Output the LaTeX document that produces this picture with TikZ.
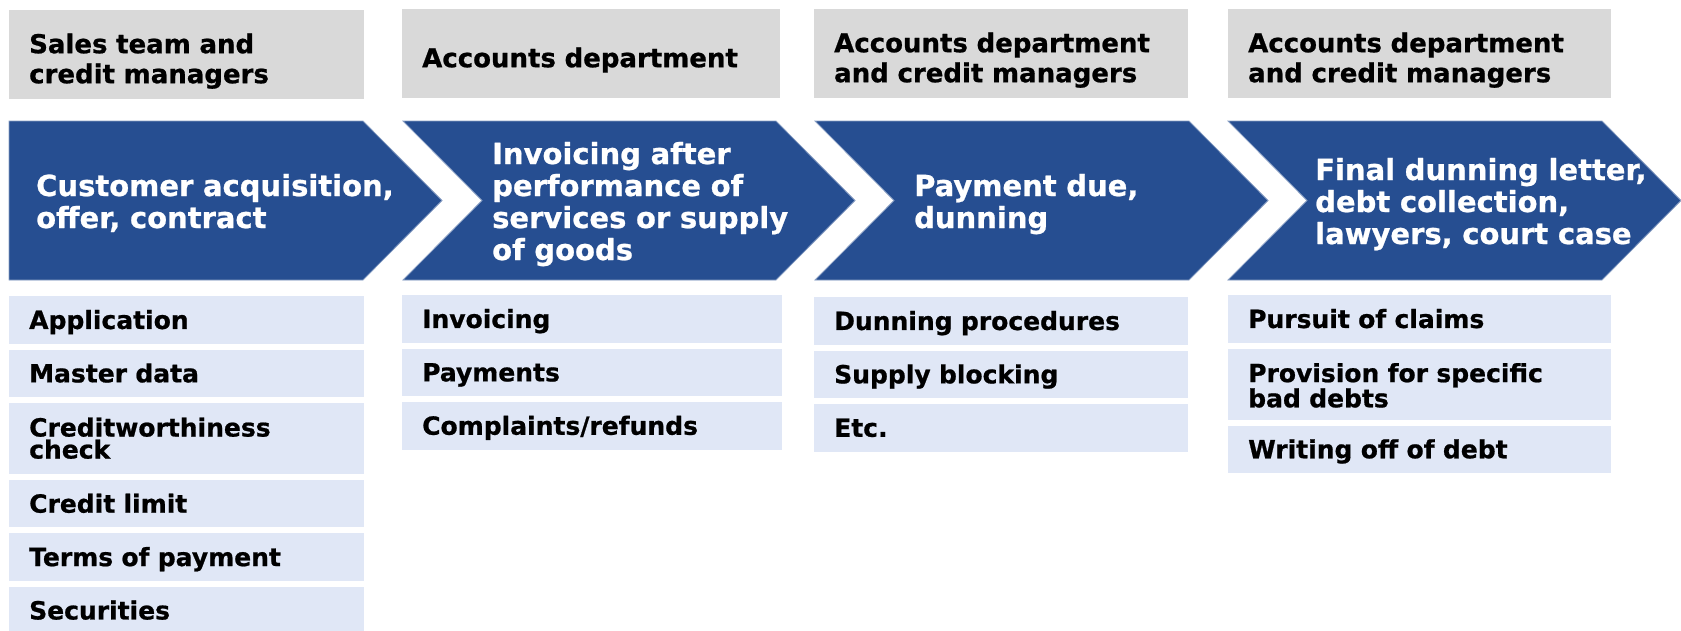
\documentclass[tikz,border=0pt]{standalone}
\usepackage{fontspec}
\setmainfont{DejaVu Sans}[BoldFeatures={FakeBold=0.8}]
\usepackage{xcolor}
\usepackage{tikz}
\usetikzlibrary{positioning}
\definecolor{chevblue}{RGB}{38,78,145}
\definecolor{hdrgray}{RGB}{217,217,217}
\definecolor{itemblue}{RGB}{224,231,246}
\tikzstyle{hdr} = [fill=hdrgray,anchor=north west,inner xsep=20pt,inner ysep=0pt,align=left,minimum height=89pt,text height=27pt,text depth=0pt,font=\fontsize{26}{30}\selectfont\bfseries]
\tikzstyle{item} = [fill=itemblue,inner xsep=20pt,inner ysep=0pt,align=left,minimum height=47.5pt,text height=18pt,text depth=0pt,font=\fontsize{25}{22}\selectfont\bfseries]
\tikzstyle{chev} = [fill=chevblue,draw=chevblue!55!white,line width=0.8pt]
\tikzstyle{chevtext} = [anchor=west,align=left,text=white,inner sep=0pt,text width=360pt,text height=23pt,font=\fontsize{29}{32}\selectfont\bfseries]

\begin{document}
\begin{tikzpicture}[x=1pt,y=-1pt]
	\useasboundingbox (0,0) rectangle (1681,630);
	
	% Headers:
	% Grey boxes naming who is in charge of each step
	\node[hdr,text width=315pt,text depth=30pt] (h1) at (9,10) {Sales team and\\credit managers};
	\node[hdr,text width=338pt] (h2) at (402,9) {Accounts department};
	\node[hdr,text width=334pt,text depth=30pt] (h3) at (814,9) {Accounts department\\and credit managers};
	\node[hdr,text width=343pt,text depth=30pt] (h4) at (1228,9) {Accounts department\\and credit managers};
	
	% Chevrons:
	% The first one has a flat left side, the others get a notch
	\draw[chev] (9,121) -- (363,121) -- (442,200.5) -- (363,280) -- (9,280) -- cycle;
	\foreach \l/\r in {403/776,815/1189,1228/1602}
	{
		\draw[chev] (\l,121) -- (\r,121) -- (\r+79,200.5) -- (\r,280) -- (\l,280) -- (\l+79,200.5) -- cycle;
	}
	
	\node[chevtext,text depth=32pt] (s1) at (36,200.5) {Customer acquisition,\\offer, contract};
	\node[chevtext,text depth=96pt] (s2) at (492,200.5) {Invoicing after\\performance of\\services or supply\\of goods};
	\node[chevtext,text depth=32pt] (s3) at (914,200.5) {Payment due,\\dunning};
	\node[chevtext,text depth=64pt] (s4) at (1315,200.5) {Final dunning letter,\\debt collection,\\lawyers, court case};
	
	% Tasks:
	% Light boxes stacked below each chevron
	\node[item,text width=315pt,anchor=north west] (a1) at (9,296) {Application};
	\node[item,text width=315pt,below=5.5pt of a1] (a2) {Master data};
	\node[item,text width=315pt,below=5.5pt of a2,minimum height=71pt,text depth=22pt] (a3) {Creditworthiness\\check};
	\node[item,text width=315pt,below=5.5pt of a3] (a4) {Credit limit};
	\node[item,text width=315pt,below=5.5pt of a4] (a5) {Terms of payment};
	\node[item,text width=315pt,below=5.5pt of a5] (a6) {Securities};
	
	\node[item,text width=340pt,anchor=north west] (b1) at (402,295) {Invoicing};
	\node[item,text width=340pt,below=5.5pt of b1] (b2) {Payments};
	\node[item,text width=340pt,below=5.5pt of b2] (b3) {Complaints/refunds};
	
	\node[item,text width=334pt,anchor=north west] (c1) at (814,297) {Dunning procedures};
	\node[item,text width=334pt,below=5.5pt of c1] (c2) {Supply blocking};
	\node[item,text width=334pt,below=5.5pt of c2] (c3) {Etc.};
	
	\node[item,text width=343pt,anchor=north west] (d1) at (1228,295) {Pursuit of claims};
	\node[item,text width=343pt,below=5.5pt of d1,minimum height=71pt,text depth=22pt] (d2) {Provision for specific\\bad debts};
	\node[item,text width=343pt,below=5.5pt of d2] (d3) {Writing off of debt};
	
\end{tikzpicture}
\end{document}
